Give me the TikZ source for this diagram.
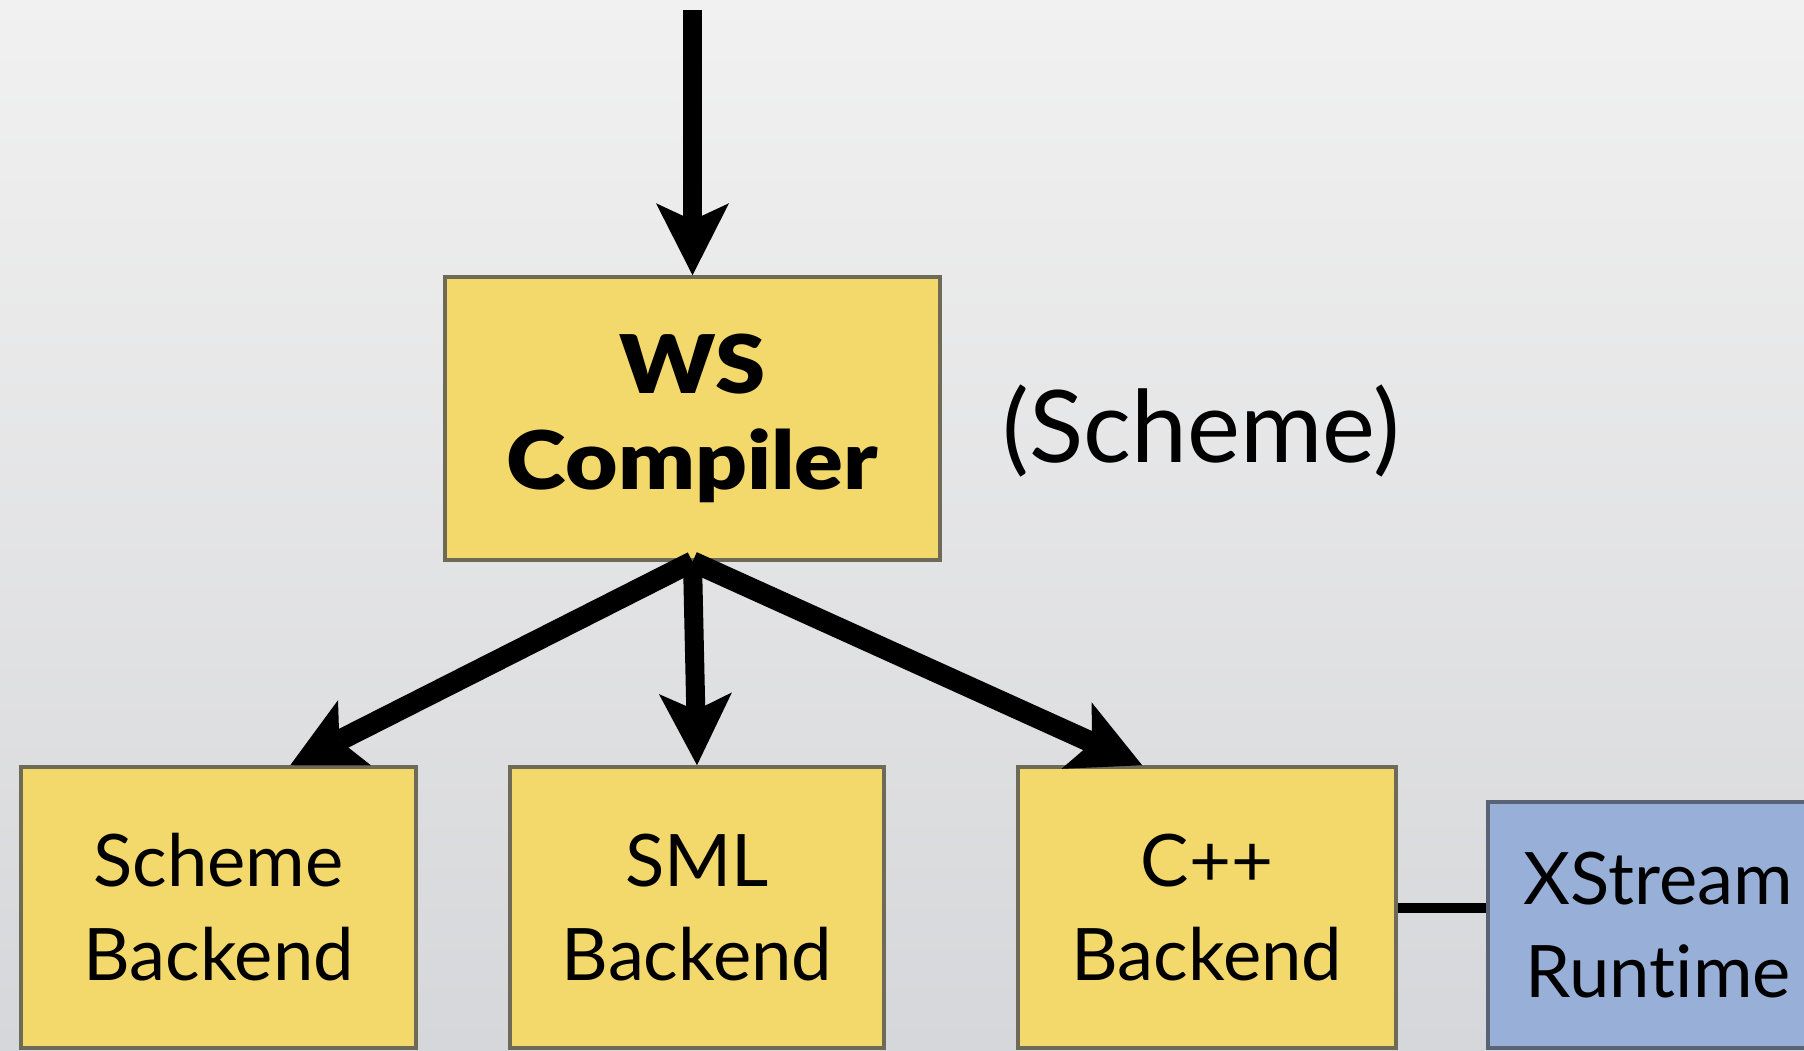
\documentclass[tikz,border=0pt]{standalone}
\usepackage{fontspec}
\setmainfont{Lato}[Ligatures=NoCommon]
\newfontfamily\heavyfont{Lato Black}[FakeStretch=1.12]
\usetikzlibrary{arrows.meta,positioning,calc}
\definecolor{boxyellow}{RGB}{243,216,108}
\definecolor{boxblue}{RGB}{152,176,216}
\definecolor{edgegray}{RGB}{110,106,88}
\definecolor{edgeblue}{RGB}{90,98,118}
\definecolor{bgtop}{RGB}{241,241,241}
\definecolor{bgbot}{RGB}{214,215,218}
\tikzset{
	stage/.style={draw=edgegray,line width=1pt,fill=boxyellow,align=center,inner sep=0pt,
		font=\fontsize{20.6}{26.7}\selectfont},
	runtime/.style={stage,draw=edgeblue,fill=boxblue},
	flow/.style={->,line width=1.9mm},
}
\begin{document}
\begin{tikzpicture}[>={Stealth[length=7.2mm,width=7.3mm,inset=1.7mm,line width=0pt]}]
	\useasboundingbox (0,0) rectangle (18.04,10.5);
	\shade[top color=bgtop,bottom color=bgbot] (0,0) rectangle (18.04,10.5);
	\clip (0,0) rectangle (18.04,10.5);
	% compiler and its language
	\node[stage,minimum width=4.95cm,minimum height=2.83cm,
		font=\heavyfont\fontsize{23}{27.3}\selectfont] (compiler) at (6.925,6.315) {WS\\Compiler};
	\node[right=0.6cm of compiler,yshift=-0.12cm,inner sep=0pt,
		font=\fontsize{28.5}{34}\selectfont] (lang) {(Scheme)};
	% backends
	\node[stage,minimum width=3.95cm,minimum height=2.81cm] (scheme) at (2.185,1.425) {Scheme\\Backend};
	\node[stage,minimum width=3.74cm,minimum height=2.81cm] (sml) at (6.97,1.425) {SML\\Backend};
	\node[stage,minimum width=3.78cm,minimum height=2.81cm] (cpp) at (12.07,1.425) {C++\\Backend};
	\node[runtime,minimum width=3.4cm,minimum height=2.46cm] (xstream) at (16.58,1.25) {XStream\\Runtime};
	% connectors
	\coordinate (entry) at ($(compiler.north)+(0,2.65)$);
	\draw[flow] (entry) -- (compiler.north);
	\draw[flow,line width=2.1mm] (compiler.south) -- ($(scheme.north west)!0.68!(scheme.north east)$);
	\draw[flow] (compiler.south) -- (sml.north);
	\draw[flow,line width=2.1mm] (compiler.south) -- ($(cpp.north west)!0.33!(cpp.north east)$);
	\draw[line width=1mm] (cpp.east) -- (cpp.east -| xstream.west);
\end{tikzpicture}
\end{document}
